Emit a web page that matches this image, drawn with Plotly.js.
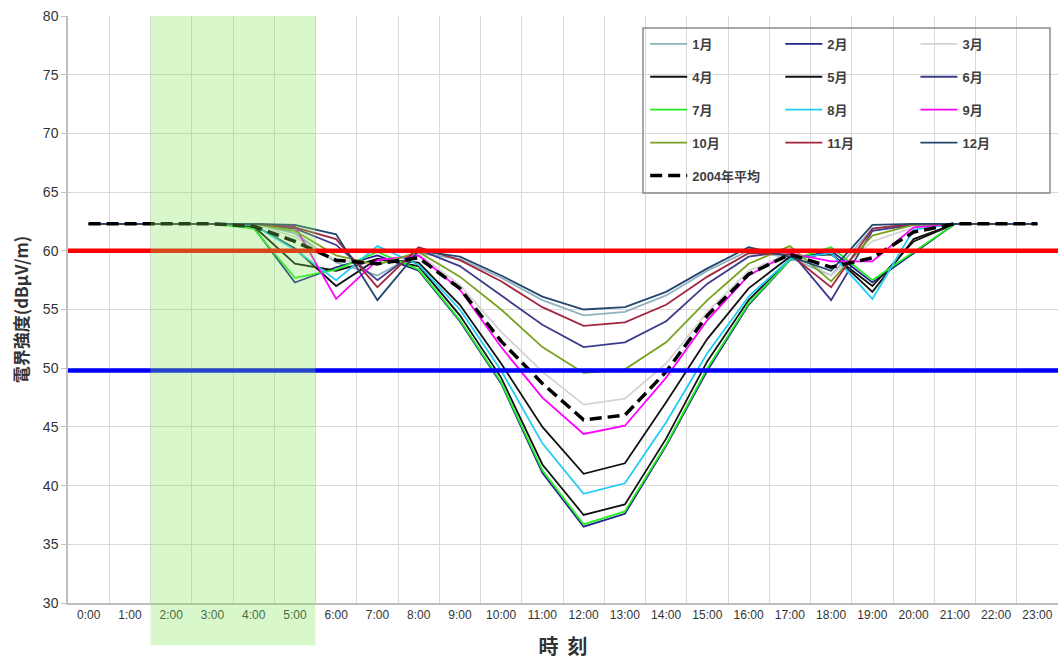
<!DOCTYPE html>
<html>
<head>
<meta charset="utf-8">
<script src="https://cdn.plot.ly/plotly-3.0.1.min.js"></script>
<style>html,body{margin:0;padding:0;background:#fff;}#chart{width:1063px;height:660px;}</style>
</head>
<body>
<div id="chart"></div>
<script>
const hours = ["0:00","1:00","2:00","3:00","4:00","5:00","6:00","7:00","8:00","9:00","10:00","11:00",
               "12:00","13:00","14:00","15:00","16:00","17:00","18:00","19:00","20:00","21:00","22:00","23:00"];

const jan = [62.3,62.3,62.3,62.3,62.3,61.5,59.0,57.9,59.8,59.3,57.7,55.8,54.5,54.8,56.2,58.3,60.0,59.4,57.9,61.9,62.3,62.3,62.3,62.3];
const feb = [62.3,62.3,62.3,62.3,62.0,57.3,58.6,59.6,58.3,54.0,48.7,41.1,36.5,37.6,43.4,49.8,55.4,59.2,60.0,57.3,59.8,62.3,62.3,62.3];
const mar = [62.3,62.3,62.3,62.3,62.3,61.2,59.2,59.0,59.7,57.1,53.1,49.7,46.9,47.4,50.4,54.8,58.3,59.8,57.9,60.8,62.0,62.3,62.3,62.3];
const apr = [62.3,62.3,62.3,62.3,62.2,60.2,57.0,59.3,59.0,55.4,50.4,45.0,41.0,41.9,47.1,52.5,56.8,59.5,59.7,57.0,60.8,62.3,62.3,62.3];
const may = [62.3,62.3,62.3,62.3,62.1,58.9,58.3,59.3,58.7,54.5,49.2,41.8,37.5,38.4,44.0,50.6,55.8,59.3,59.8,56.5,61.0,62.3,62.3,62.3];
const jun = [62.3,62.3,62.3,62.3,62.3,61.9,60.5,57.5,60.1,58.7,56.2,53.7,51.8,52.2,54.0,57.2,59.5,60.0,55.8,61.7,62.2,62.3,62.3,62.3];
const jul = [62.3,62.3,62.3,62.3,61.9,57.7,58.4,59.9,58.4,54.1,48.8,41.3,36.7,37.8,43.5,50.0,55.5,59.2,60.3,57.5,59.9,62.3,62.3,62.3];
const aug = [62.3,62.3,62.3,62.3,62.2,60.1,57.5,60.4,58.8,55.0,49.8,43.6,39.3,40.2,45.4,51.3,56.1,59.3,59.8,55.9,61.8,62.3,62.3,62.3];
const sep = [62.3,62.3,62.3,62.3,62.3,62.1,55.9,59.2,59.6,56.7,51.8,47.5,44.4,45.1,49.2,54.1,57.9,59.8,59.1,59.1,62.0,62.3,62.3,62.3];
const oct = [62.3,62.3,62.3,62.3,62.3,61.7,59.6,58.8,59.9,57.8,55.0,51.8,49.6,49.9,52.2,55.8,58.9,60.4,57.4,61.3,62.2,62.3,62.3,62.3];
const nov = [62.3,62.3,62.3,62.3,62.3,62.0,61.0,56.9,60.3,59.2,57.4,55.2,53.6,53.9,55.4,57.8,59.8,59.7,56.9,61.9,62.3,62.3,62.3,62.3];
const dec = [62.3,62.3,62.3,62.3,62.3,62.2,61.4,55.8,60.0,59.5,57.9,56.1,55.0,55.2,56.5,58.5,60.3,59.5,58.3,62.2,62.3,62.3,62.3,62.3];
const avg2004 = [62.3,62.3,62.3,62.3,62.1,60.8,59.2,58.9,59.4,56.8,52.3,48.7,45.6,46.0,49.7,54.5,58.0,59.7,58.6,59.4,61.6,62.3,62.3,62.3];

const monthNames = ["1月","2月","3月","4月","5月","6月","7月","8月","9月","10月","11月","12月"];
const avgName = "2004年平均";
const upperLimit = 60;
const lowerLimit = 49.8;
const shadeFrom = "2:00";
const shadeTo = "5:00";

const monthSeries = [jan,feb,mar,apr,may,jun,jul,aug,sep,oct,nov,dec];
const monthColors = ["#8FB2BE","#22228C","#D4D4D4","#111111","#111111","#3C3C8A",
                     "#22EE22","#22CCF5","#FF00FF","#78A21E","#A3263F","#23466F"];
const legendIds = ["legend","legend2","legend3"];

const font = "Liberation Sans, Arial, Noto Sans CJK JP, sans-serif";
const cjk = "Noto Sans CJK JP, Liberation Sans, sans-serif";

const traces = monthSeries.map((ys, i) => ({
  type: "scatter", mode: "lines", x: hours, y: ys, name: monthNames[i],
  line: {color: monthColors[i], width: 1.8},
  legend: legendIds[i % 3], legendgroup: "g" + i, hoverinfo: "x+y+name"
}));
traces.push({
  type: "scatter", mode: "lines", x: hours, y: avg2004, name: avgName,
  line: {color: "#000000", width: 3.5, dash: "12px,6px"},
  legend: "legend", legendgroup: "gavg"
});

const iFrom = hours.indexOf(shadeFrom) - 0.5;
const iTo = hours.indexOf(shadeTo) + 0.5;

const legendCommon = {
  orientation: "v", bgcolor: "rgba(0,0,0,0)", borderwidth: 0,
  xanchor: "left", yanchor: "top", y: 0.978, tracegroupgap: 13, itemwidth: 37,
  font: {family: font, size: 13, color: "#404040", weight: "bold"}
};

const layout = {
  width: 1063, height: 660,
  margin: {l: 68, r: 5, t: 16, b: 57},
  paper_bgcolor: "#ffffff", plot_bgcolor: "#ffffff",
  font: {family: font, color: "#404040"},
  showlegend: true,
  legend: Object.assign({}, legendCommon, {x: 0.583}),
  legend2: Object.assign({}, legendCommon, {x: 0.7195}),
  legend3: Object.assign({}, legendCommon, {x: 0.856}),
  xaxis: {
    type: "category", categoryorder: "array", categoryarray: hours,
    tickson: "boundaries", showgrid: true, gridcolor: "#D9D9D9", gridwidth: 1,
    showline: true, linecolor: "#BFBFBF", linewidth: 1.5, mirror: false,
    ticks: "", tickfont: {family: font, size: 12, color: "#333333"},
    range: [-0.5, 23.5], fixedrange: true,
    title: {text: "時 \u00a0刻", font: {family: cjk, size: 20, color: "#333333", weight: "bold"}, standoff: 22}
  },
  yaxis: {
    range: [30, 80], dtick: 5, tick0: 30,
    showgrid: true, gridcolor: "#D9D9D9", gridwidth: 1,
    showline: true, linecolor: "#BFBFBF", linewidth: 1.5,
    ticks: "outside", ticklen: 5, tickcolor: "#BFBFBF",
    tickfont: {family: font, size: 14, color: "#333333"},
    zeroline: false, fixedrange: true,
    title: {text: "電界強度(dBμV/m)", font: {family: cjk, size: 17, color: "#333333", weight: "bold"}, standoff: 10}
  },
  shapes: [
    {type: "rect", xref: "paper", yref: "paper", x0: 0.5808, x1: 0.9919, y0: 0.6985, y1: 0.9796,
     line: {color: "#8C8C8C", width: 1.5}, fillcolor: "rgba(255,255,255,0)", layer: "above"},
    {type: "line", xref: "paper", yref: "y", x0: 0, x1: 1, y0: upperLimit, y1: upperLimit,
     line: {color: "#FF0000", width: 4.5}, layer: "above"},
    {type: "line", xref: "paper", yref: "y", x0: 0, x1: 1, y0: lowerLimit, y1: lowerLimit,
     line: {color: "#0000FF", width: 4.5}, layer: "above"},
    {type: "rect", xref: "x", yref: "paper", x0: iFrom, x1: iTo, y0: -0.072, y1: 1,
     line: {width: 0}, fillcolor: "rgba(125,231,85,0.3)", layer: "above"}
  ]
};

Plotly.newPlot("chart", traces, layout, {displayModeBar: false, responsive: false});
</script>
</body>
</html>
